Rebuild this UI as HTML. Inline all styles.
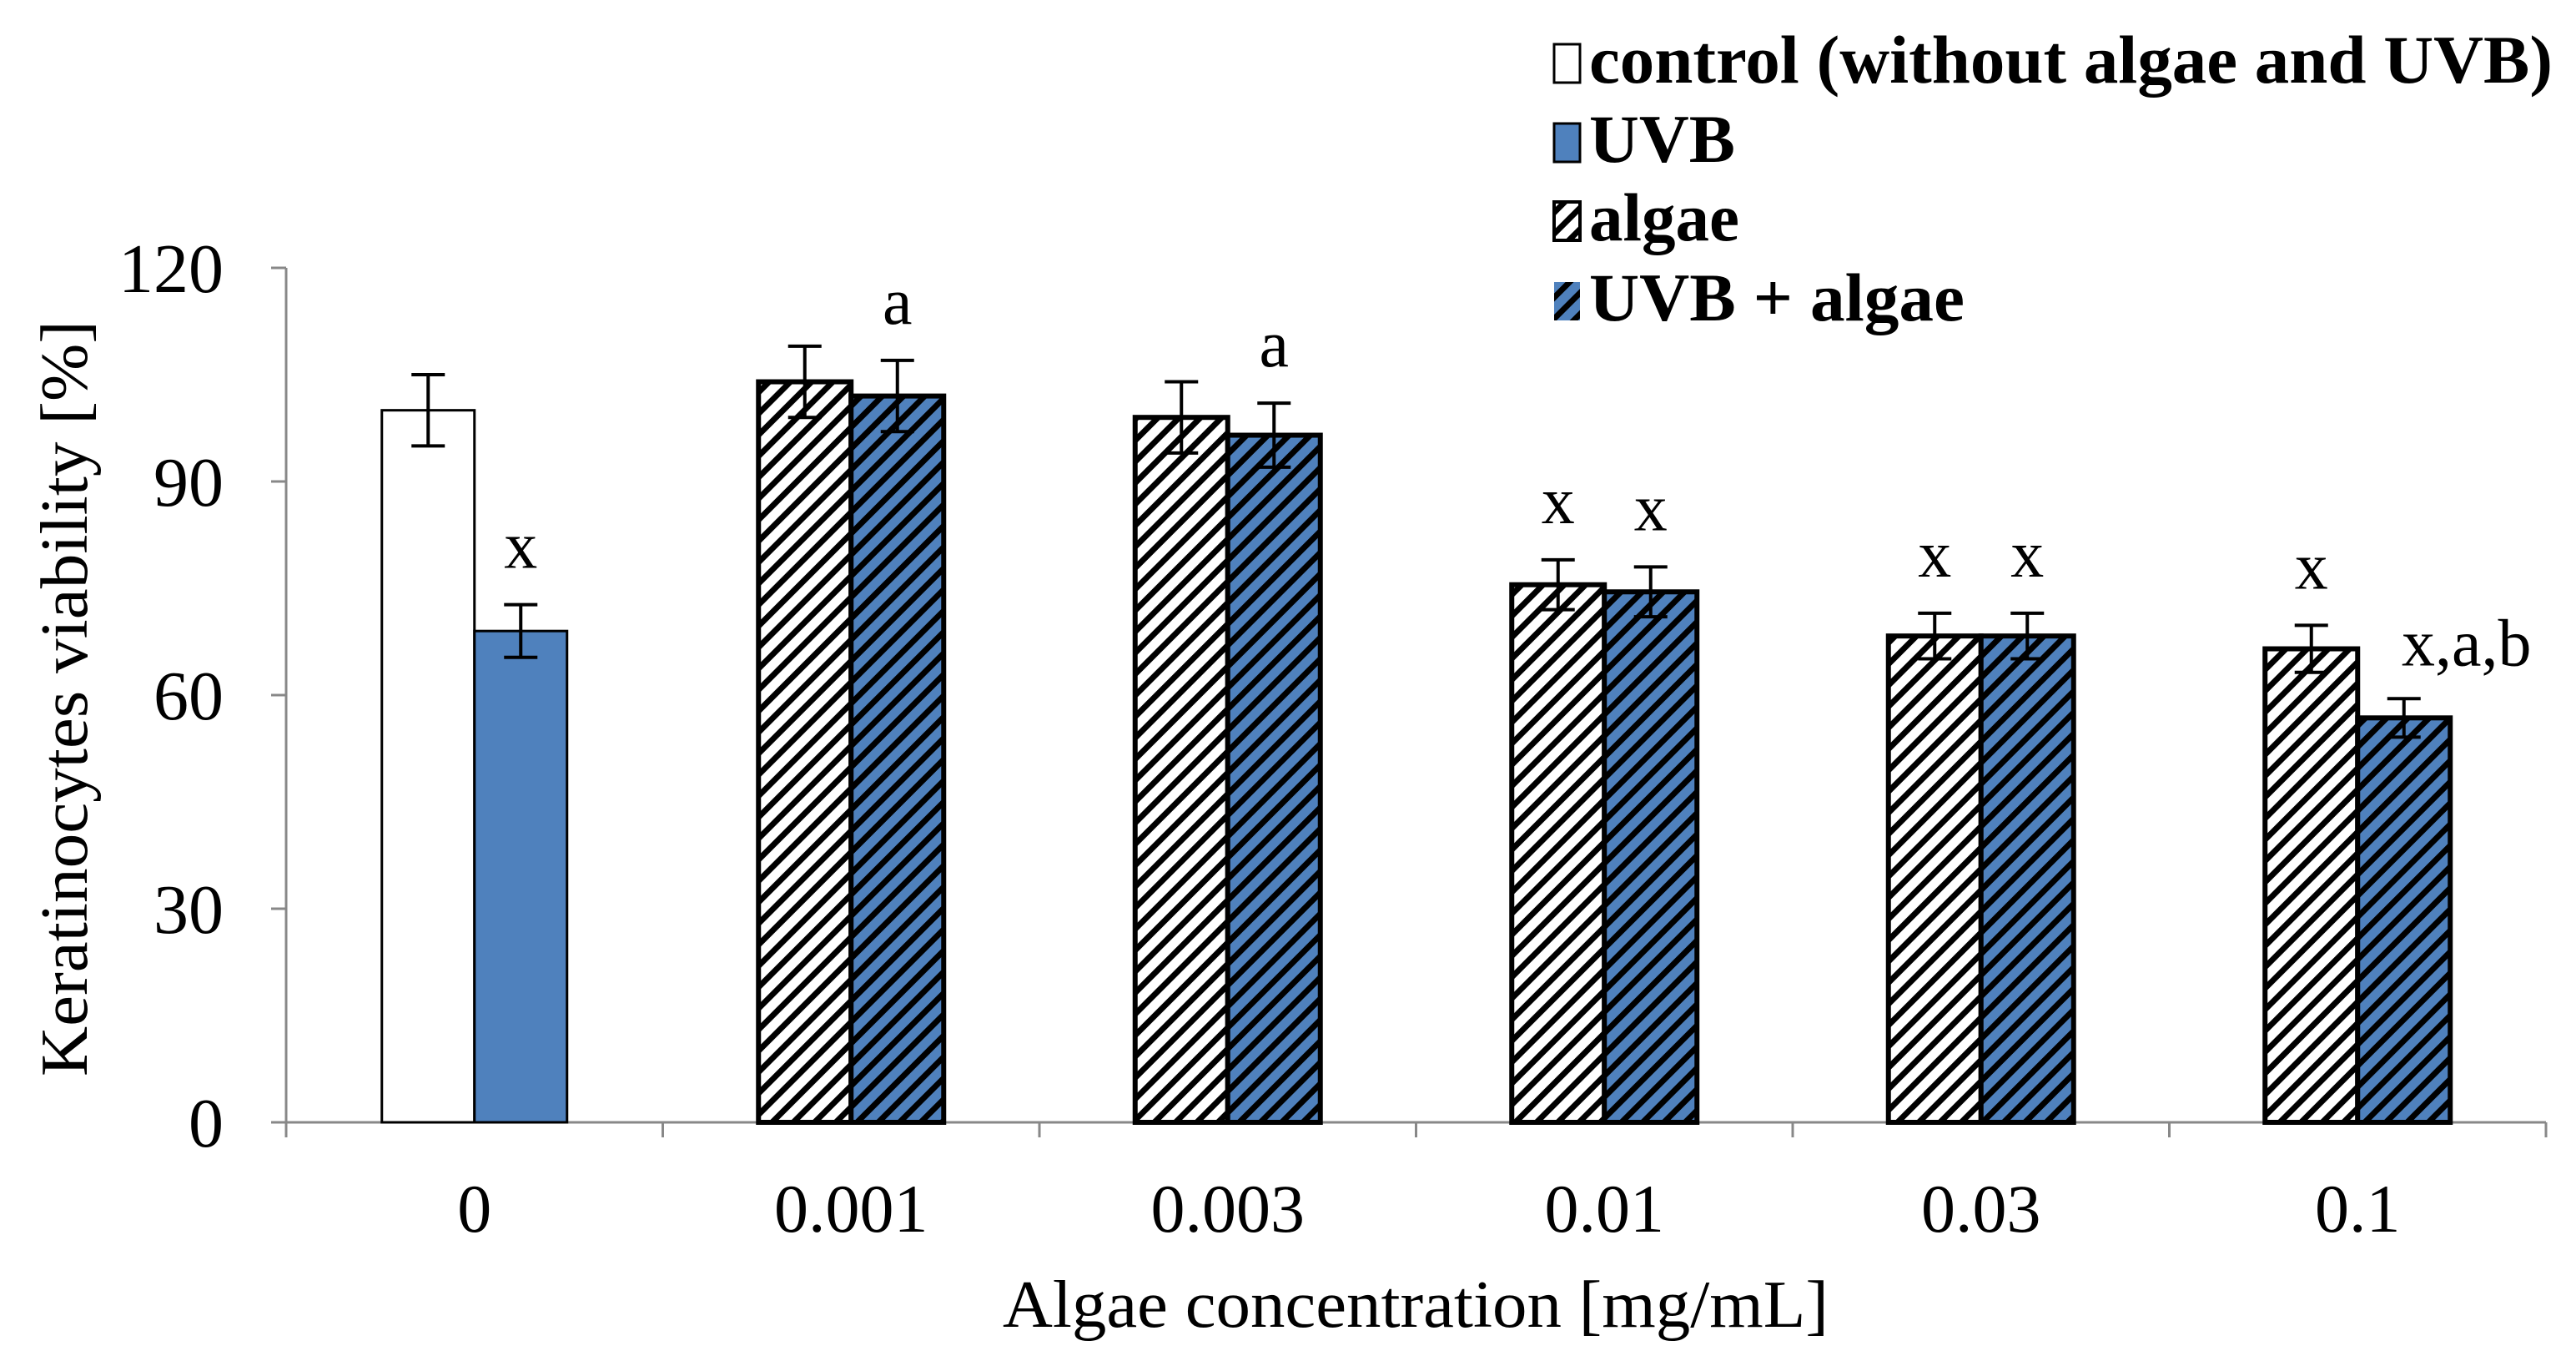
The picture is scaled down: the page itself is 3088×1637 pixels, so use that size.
<!DOCTYPE html>
<html><head><meta charset="utf-8"><style>
html,body{margin:0;padding:0;background:#fff;}
svg{display:block;}
text{font-family:"Liberation Serif",serif;fill:#000;}
</style></head>
<body>
<svg id="chart" width="3088" height="1637" viewBox="0 0 3088 1637" xmlns="http://www.w3.org/2000/svg">
<defs>
<pattern id="hatchW" patternUnits="userSpaceOnUse" width="18" height="18" patternTransform="rotate(45)">
<rect width="18" height="18" fill="#fff"/><rect x="0" y="0" width="7" height="18" fill="#000"/>
</pattern>
<pattern id="hatchB" patternUnits="userSpaceOnUse" width="18" height="18" patternTransform="rotate(45)">
<rect width="18" height="18" fill="#4f81bd"/><rect x="0" y="0" width="7" height="18" fill="#000"/>
</pattern>
</defs>
<g id="plot"></g>
<g id="legend">
<g>
<rect x="1863" y="53" width="31" height="46" fill="#fff" stroke="#000" stroke-width="3"/>
<text x="1905" y="99" font-size="82" font-weight="bold" textLength="1155" lengthAdjust="spacingAndGlyphs">control (without algae and UVB)</text></g>
<g>
<rect x="1863" y="148" width="31" height="46" fill="#4f81bd" stroke="#000" stroke-width="3"/>
<text x="1905" y="194" font-size="82" font-weight="bold" textLength="175" lengthAdjust="spacingAndGlyphs">UVB</text></g>
<g>
<rect x="1863" y="242" width="31" height="46" fill="url(#hatchW)" stroke="#000" stroke-width="4"/>
<text x="1905" y="288" font-size="82" font-weight="bold" textLength="180" lengthAdjust="spacingAndGlyphs">algae</text></g>
<g>
<rect x="1863" y="338" width="31" height="46" fill="url(#hatchB)"/>
<text x="1905" y="384" font-size="82" font-weight="bold" textLength="450" lengthAdjust="spacingAndGlyphs">UVB + algae</text></g>
</g>
</svg>
<script>
const categories = ["0","0.001","0.003","0.01","0.03","0.1"];
const controlVals = [100, null, null, null, null, null];
const controlErr = [5, null, null, null, null, null];
const uvbVals = [69, null, null, null, null, null];
const uvbErr = [3.7, null, null, null, null, null];
const algaeVals = [null, 104, 99, 75.5, 68.3, 66.5];
const algaeErr = [null, 5, 5, 3.5, 3.2, 3.3];
const uvbAlgaeVals = [null, 102, 96.5, 74.5, 68.3, 56.8];
const uvbAlgaeErr = [null, 5, 4.5, 3.5, 3.2, 2.7];
const leftLabels = ["", "", "", "x", "x", "x"];
const rightLabels = ["x", "a", "a", "x", "x", "x,a,b"];
const yTicks = [0, 30, 60, 90, 120];

const NS = "http://www.w3.org/2000/svg";
const plot = document.getElementById('plot');
const X0 = 343, X1 = 3052, Y0 = 1345, Y1 = 321, YMAX = 120;
const catW = (X1 - X0) / categories.length;
const barW = 111;
function y(v){ return Y0 - (v / YMAX) * (Y0 - Y1); }
function xc(i){ return X0 + catW * (i + 0.5); }
function mk(tag, attrs, parent){
  const el = document.createElementNS(NS, tag);
  for (const k in attrs) el.setAttribute(k, attrs[k]);
  (parent || plot).appendChild(el);
  return el;
}
const yAxis = mk('g', {});


mk('line', {x1:X0, y1:Y1, x2:X0, y2:Y0, stroke:'#888', 'stroke-width':3}, yAxis);
yTicks.forEach(t => {
  mk('line', {x1:X0-18, y1:y(t), x2:X0, y2:y(t), stroke:'#888', 'stroke-width':3}, yAxis);
  const tx = mk('text', {x:268, y:y(t)+29, 'font-size':84, 'text-anchor':'end'}, yAxis);
  
  
  tx.textContent = t;
});
const xAxis = mk('g', {});


mk('line', {x1:X0-18, y1:Y0, x2:X1, y2:Y0, stroke:'#888', 'stroke-width':3}, xAxis);
for (let i = 0; i <= categories.length; i++) {
  const tx0 = X0 + catW * i;
  mk('line', {x1:tx0, y1:Y0, x2:tx0, y2:Y0+18, stroke:'#888', 'stroke-width':3}, xAxis);
}
categories.forEach((c, i) => {
  const t = mk('text', {x:xc(i), y:1476, 'font-size':82, 'text-anchor':'middle'}, xAxis);
  
  
  t.textContent = c;
});
const xt = mk('text', {x:1697, y:1590, 'font-size':80, 'text-anchor':'middle', textLength:990, lengthAdjust:'spacingAndGlyphs'});


xt.textContent = 'Algae concentration [mg/mL]';
const yt = mk('text', {x:0, y:0, 'font-size':80, 'text-anchor':'middle', transform:'translate(104,837) rotate(-90)', textLength:906, lengthAdjust:'spacingAndGlyphs'});


yt.textContent = 'Keratinocytes viability [%]';

function bar(i, side, v, e, fill, sw, name, label){
  if (v == null) return;
  const x = side < 0 ? xc(i) - barW : xc(i);
  const r = mk('rect', {x:x, y:y(v), width:barW, height:Y0 - y(v), fill:fill, stroke:'#000', 'stroke-width':sw});
  
  
  const cx = x + barW/2;
  const eg = mk('g', {stroke:'#000', 'stroke-width':4});
  
  
  mk('line', {x1:cx, y1:y(v+e), x2:cx, y2:y(v-e)}, eg);
  mk('line', {x1:cx-20, y1:y(v+e), x2:cx+20, y2:y(v+e)}, eg);
  mk('line', {x1:cx-20, y1:y(v-e), x2:cx+20, y2:y(v-e)}, eg);
  if (label) {
    const big = label.length > 1;
    const t = mk('text', {x: big ? cx + 75 : cx, y: y(v+e) - (big ? 40 : 44), 'font-size':80, 'text-anchor':'middle'});
    
    
    t.textContent = label;
  }
}
categories.forEach((c, i) => {
  bar(i, -1, controlVals[i], controlErr[i], '#fff', 3, 'bar-control', '');
  bar(i, 1, uvbVals[i], uvbErr[i], '#4f81bd', 3, 'bar-uvb', rightLabels[i]);
  bar(i, -1, algaeVals[i], algaeErr[i], 'url(#hatchW)', 6, 'bar-algae', leftLabels[i]);
  bar(i, 1, uvbAlgaeVals[i], uvbAlgaeErr[i], 'url(#hatchB)', 6, 'bar-uvb-algae', i > 0 ? rightLabels[i] : '');
});
</script>
</body></html>
